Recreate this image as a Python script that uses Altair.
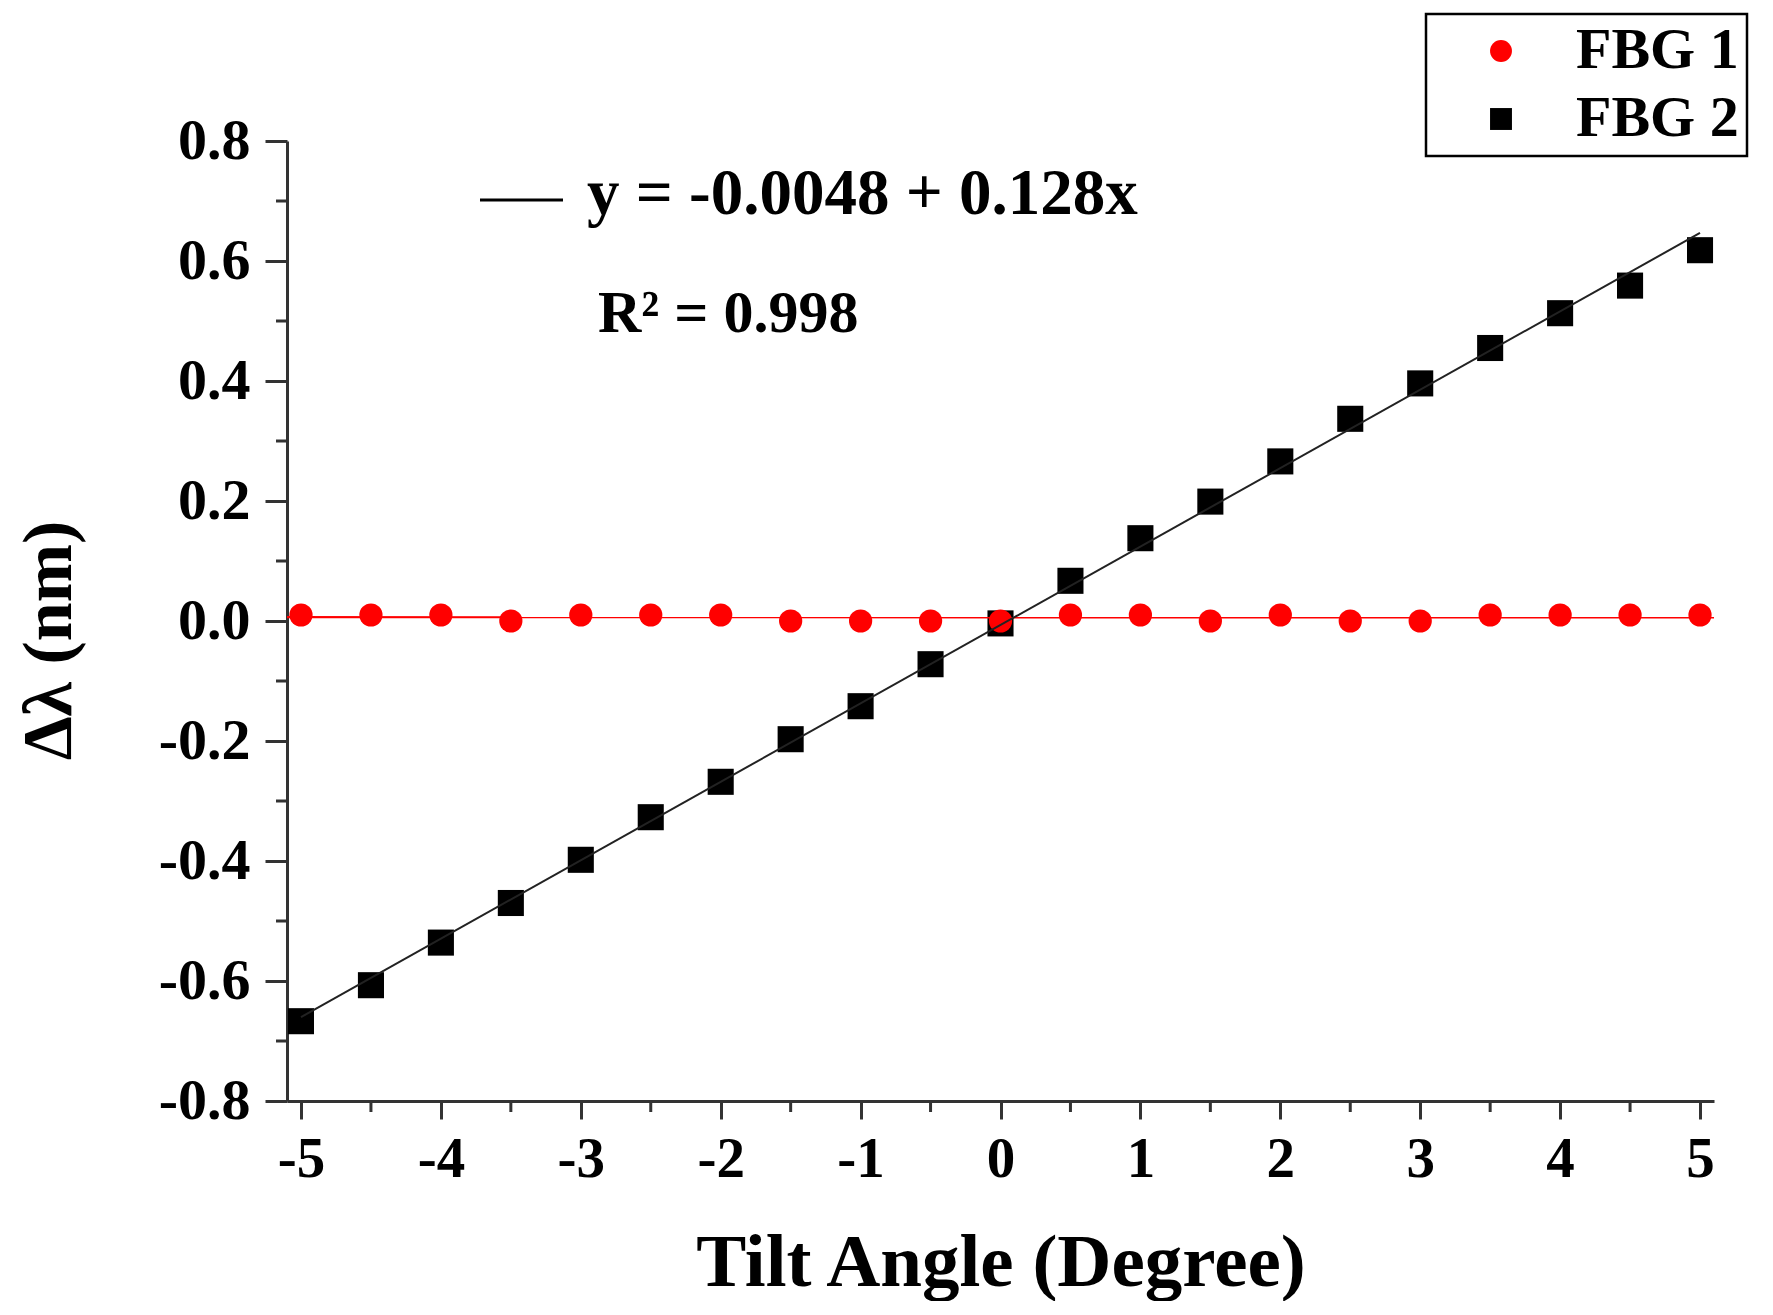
import altair as alt
import pandas as pd

# ---- data ----
tilt = [-5, -4.5, -4, -3.5, -3, -2.5, -2, -1.5, -1, -0.5, 0,
        0.5, 1, 1.5, 2, 2.5, 3, 3.5, 4, 4.5, 5]
fbg1 = [0.01, 0.01, 0.01, 0.0, 0.01, 0.01, 0.01, 0.0, 0.0, 0.0, 0.0,
        0.01, 0.01, 0.0, 0.01, 0.0, 0.0, 0.01, 0.01, 0.01, 0.01]
fbg2 = [-0.667, -0.607, -0.536, -0.470, -0.398, -0.327, -0.268, -0.197, -0.142, -0.072, -0.004,
        0.067, 0.138, 0.199, 0.266, 0.337, 0.396, 0.455, 0.513, 0.559, 0.618]
series = ["FBG 1", "FBG 2"]
series_colors = ["#ff0000", "#000000"]
series_shapes = ["circle", "square"]

x_major = [-5, -4, -3, -2, -1, 0, 1, 2, 3, 4, 5]
x_minor = [-4.5, -3.5, -2.5, -1.5, -0.5, 0.5, 1.5, 2.5, 3.5, 4.5]
y_major = [-0.8, -0.6, -0.4, -0.2, 0.0, 0.2, 0.4, 0.6, 0.8]
y_minor = [-0.7, -0.5, -0.3, -0.1, 0.1, 0.3, 0.5, 0.7]

eq_text = ["y = -0.0048 + 0.128x"]
r2_text = ["R\u00b2 = 0.998"]

FONT = "Liberation Serif"
AX = "#333333"

df1 = pd.DataFrame({"tilt": tilt, "value": fbg1, "series": series[0]})
df2 = pd.DataFrame({"tilt": tilt, "value": fbg2, "series": series[1]})

xscale = alt.Scale(domain=[-5.1, 5.1], nice=False, zero=False)
yscale = alt.Scale(domain=[-0.8, 0.8], nice=False, zero=False)

color = alt.Color("series:N", scale=alt.Scale(domain=series, range=series_colors),
                  legend=alt.Legend(title=None, orient="none", legendX=1139, legendY=-127,
                                    strokeColor="black", fillColor="white",
                                    padding=8, symbolOffset=38, labelOffset=46,
                                    labelFont=FONT, labelFontSize=58, labelFontWeight="bold",
                                    labelColor="black", symbolSize=480, labelLimit=500,
                                    symbolStrokeWidth=0))
shape = alt.Shape("series:N", scale=alt.Scale(domain=series, range=series_shapes))

xaxis = alt.Axis(values=x_major, title="Tilt Angle (Degree)", grid=False,
                 labelExpr="datum.value < 0 ? '-' + format(abs(datum.value), 'd') : format(datum.value, 'd')",
                 labelFont=FONT, labelFontSize=57, labelFontWeight="bold", labelColor="black",
                 labelBaseline="alphabetic", labelPadding=57, labelFlush=False,
                 tickSize=18, tickWidth=3, tickColor=AX, domainColor=AX, domainWidth=3,
                 titleFont=FONT, titleFontSize=75, titleFontWeight="bold", titleColor="black",
                 titleBaseline="alphabetic", titleY=184)
yaxis = alt.Axis(values=y_major, title="\u0394\u03bb (nm)", grid=False,
                 labelExpr="datum.value < -0.00001 ? '-' + format(abs(datum.value), '.1f') : format(abs(datum.value), '.1f')",
                 labelFont=FONT, labelFontSize=58, labelFontWeight="bold", labelColor="black",
                 labelPadding=15, tickSize=22, tickWidth=3, tickColor=AX,
                 domainColor=AX, domainWidth=3,
                 titleFont=FONT, titleFontSize=70, titleFontWeight="bold", titleColor="black",
                 titleBaseline="alphabetic", titleX=-217, titleY=499, titleAngle=270)

squares = alt.Chart(df2).mark_point(filled=True, size=680, opacity=1).encode(
    x=alt.X("tilt:Q", scale=xscale, axis=xaxis),
    y=alt.Y("value:Q", scale=yscale, axis=yaxis),
    color=color, shape=shape)

circles = alt.Chart(df1).mark_point(filled=True, size=540, opacity=1).encode(
    x=alt.X("tilt:Q", scale=xscale),
    y=alt.Y("value:Q", scale=yscale),
    color=color, shape=shape)

fit1 = alt.Chart(df1).transform_regression("tilt", "value", extent=[-5.1, 5.1]).mark_line(
    color="#ff0000", strokeWidth=2.2).encode(
    x=alt.X("tilt:Q", scale=xscale), y=alt.Y("value:Q", scale=yscale))

fit2 = alt.Chart(df2).transform_regression("tilt", "value", extent=[-5, 5]).mark_line(
    color="#222222", strokeWidth=2).encode(
    x=alt.X("tilt:Q", scale=xscale), y=alt.Y("value:Q", scale=yscale))

yminor = alt.Chart(pd.DataFrame({"v": y_minor})).mark_rule(color=AX, strokeWidth=3).encode(
    y=alt.Y("v:Q", scale=yscale), x=alt.value(-11), x2=alt.value(0))
xminor = alt.Chart(pd.DataFrame({"v": x_minor})).mark_rule(color=AX, strokeWidth=3).encode(
    x=alt.X("v:Q", scale=xscale), y=alt.value(960), y2=alt.value(971))

eq_line = alt.Chart(pd.DataFrame({"t": eq_text})).mark_rule(color="black", strokeWidth=3).encode(
    x=alt.value(193), x2=alt.value(276), y=alt.value(59))
eq = alt.Chart(pd.DataFrame({"t": eq_text})).mark_text(
    font=FONT, fontSize=65, fontWeight="bold", color="black", align="left",
    baseline="alphabetic").encode(text="t:N", x=alt.value(300), y=alt.value(73))
r2 = alt.Chart(pd.DataFrame({"t": r2_text})).mark_text(
    font=FONT, fontSize=60, fontWeight="bold", color="black", align="left",
    baseline="alphabetic").encode(text="t:N", x=alt.value(311), y=alt.value(191))

chart = alt.layer(squares, circles, fit1, fit2, yminor, xminor, eq_line, eq, r2).properties(
    width=1427, height=960,
    autosize=alt.AutoSizeParams(type="none"),
    padding={"left": 279, "top": 133, "right": 48, "bottom": 200},
).configure(background="white").configure_view(stroke="transparent").configure_legend(
    rowPadding=10, strokeWidth=2.5)

chart.save("out.html", embed_options={"renderer": "svg", "actions": False})
